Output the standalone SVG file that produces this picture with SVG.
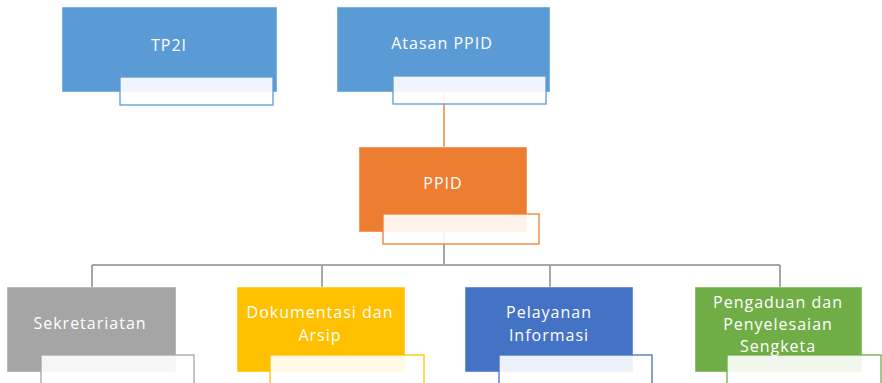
<svg xmlns="http://www.w3.org/2000/svg" width="882" height="383" viewBox="0 0 882 383">
  <style>
    .box { stroke: #ffffff; stroke-opacity: 0.45; stroke-width: 1; }
    .tag { fill: #ffffff; fill-opacity: 0.9; stroke-width: 1.3; }
    .lbl { font-family: "Open Sans", "Noto Sans", sans-serif; font-size: 16px; fill: #ffffff; text-anchor: middle; letter-spacing: 1px; }
    .blue { fill: #5b9bd5; } .blueS { stroke: #5b9bd5; }
    .orange { fill: #ed7d31; } .orangeS { stroke: #ed7d31; }
    .gray { fill: #a5a5a5; } .grayS { stroke: #a5a5a5; }
    .gold { fill: #ffc000; } .goldS { stroke: #ffc000; }
    .navy { fill: #4472c4; } .navyS { stroke: #4472c4; }
    .green { fill: #70ad47; } .greenS { stroke: #70ad47; }
    .link { fill: none; stroke-width: 2; }
  </style>
  <rect width="882" height="383" fill="#ffffff"/>

  <g id="connectors">
    <line class="link" x1="444" y1="92" x2="444" y2="147" stroke="#f4a46e"/>
    <path class="link" d="M444 232 V265 M92 265 H780 M92 265 V287 M322 265 V287 M550 265 V287 M780 265 V287" stroke="#a6a6a6"/>
  </g>

  <g id="tp2i">
    <rect class="box blue" x="62" y="7" width="215" height="85"/>
    <rect class="tag blueS" x="120" y="77" width="153" height="28"/>
    <text class="lbl" x="169" y="51">TP2I</text>
  </g>

  <g id="atasan-ppid">
    <rect class="box blue" x="337" y="7" width="213" height="85"/>
    <rect class="tag blueS" x="393" y="76" width="153" height="28"/>
    <text class="lbl" x="442" y="49">Atasan PPID</text>
  </g>

  <g id="ppid">
    <rect class="box orange" x="359" y="147" width="168" height="85"/>
    <rect class="tag orangeS" x="383" y="214" width="156" height="30"/>
    <text class="lbl" x="443" y="189">PPID</text>
  </g>

  <g id="sekretariatan">
    <rect class="box gray" x="7" y="287" width="169" height="85"/>
    <rect class="tag grayS" x="41" y="355" width="153" height="30"/>
    <text class="lbl" x="90" y="329">Sekretariatan</text>
  </g>

  <g id="dokumentasi">
    <rect class="box gold" x="237" y="287" width="168" height="85"/>
    <rect class="tag goldS" x="270" y="355" width="154" height="30"/>
    <text class="lbl" x="320" y="318">Dokumentasi dan</text>
    <text class="lbl" x="320" y="341">Arsip</text>
  </g>

  <g id="pelayanan">
    <rect class="box navy" x="465" y="287" width="168" height="85"/>
    <rect class="tag navyS" x="499" y="355" width="153" height="30"/>
    <text class="lbl" x="549" y="318">Pelayanan</text>
    <text class="lbl" x="549" y="341">Informasi</text>
  </g>

  <g id="pengaduan">
    <rect class="box green" x="695" y="287" width="167" height="85"/>
    <rect class="tag greenS" x="727" y="355" width="154" height="30"/>
    <text class="lbl" x="778" y="308">Pengaduan dan</text>
    <text class="lbl" x="778" y="330">Penyelesaian</text>
    <text class="lbl" x="778" y="352">Sengketa</text>
  </g>
</svg>
